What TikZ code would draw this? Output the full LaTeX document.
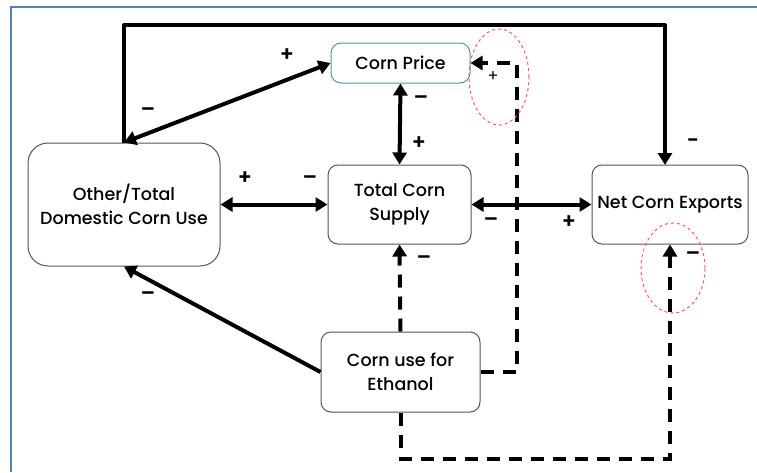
\documentclass[tikz,border=0pt]{standalone}
\usepackage{fontspec}
\setmainfont{Poppins}[BoldFont={Poppins SemiBold}]
\newfontfamily\medfont{Poppins Medium}
\usetikzlibrary{arrows.meta}
\definecolor{frameblue}{HTML}{4F81BD}
\definecolor{teal2}{HTML}{4A9BA0}
\definecolor{boxgray}{HTML}{555555}
\begin{document}
\begin{tikzpicture}[x=1pt,y=-1pt,
  box/.style={draw=boxgray, line width=1pt, rounded corners=10pt, align=center,
    font=\medfont\fontsize{17.5}{24}\selectfont, inner sep=0pt},
  conn/.style={line width=4pt, -{Triangle[length=12pt,width=14pt]}},
  dconn/.style={line width=4pt, {Triangle[length=12pt,width=14pt]}-{Triangle[length=12pt,width=14pt]}},
  dsh/.style={line width=4pt, dash pattern=on 13pt off 9pt},
  sgn/.style={font=\fontsize{21}{21}\selectfont\bfseries, inner sep=0pt},
  redell/.style={draw=red!65, dashed, line width=1pt}
]
\useasboundingbox (0,0) rectangle (757,472);
\fill[white] (0,0) rectangle (757,472);
\draw[frameblue, line width=2pt] (10.5,472) -- (10.5,7) -- (757,7);

\node[box, draw=teal2, minimum width=139pt, minimum height=40pt] (price) at (400.5,63) {Corn Price};
\node[box, rounded corners=20pt, minimum width=192pt, minimum height=123pt] (other) at (124,204.5) {Other/Total\\Domestic Corn Use};
\node[box, minimum width=143pt, minimum height=79pt] (supply) at (399.5,204.5) {Total Corn\\Supply};
\node[box, minimum width=156pt, minimum height=79pt] (exports) at (670,204.5) {Net Corn Exports};
\node[box, minimum width=159pt, minimum height=80pt] (ethanol) at (400.5,372) {Corn use for\\Ethanol};

% solid connectors
\draw[conn, line join=round] (other.north) -- (124,25) -- (665,25) -- (665,165);
\draw[dconn] (price.west) -- (other.north);
\draw[dconn] (price.south) -- (supply.north);
\draw[dconn] (other.east) -- (supply.west);
\draw[dconn] (supply.east) -- (exports.west);
\draw[conn] (ethanol.west) -- (other.south);

% dashed connectors
\draw[dsh, -{Triangle[length=12pt,width=14pt]}] (ethanol.north) -- (supply.south);
\draw[dsh, -{Triangle[length=12pt,width=14pt]}] (ethanol.east) -- ++(36,0) |- (price.east);
\draw[dsh, -{Triangle[length=12pt,width=14pt]}] (ethanol.south) -- ++(0,46) -| (exports.south);

% signs
\node[sgn] (s1) at (287,55) {+};
\node[sgn] (s2) at (148,112) {–};
\node[sgn] (s3) at (421,100) {–};
\node[sgn] (s4) at (419,143) {+};
\node[sgn] (s5) at (245,178) {+};
\node[sgn] (s6) at (310,180) {–};
\node[sgn] (s7) at (491,222) {–};
\node[sgn] (s8) at (569,222) {+};
\node[sgn] (s9) at (693,143) {-};
\node[sgn] (s10) at (148,296) {–};
\node[sgn] (s11) at (424,260) {–};
\node[sgn] (s12) at (693,256) {–};
\node[font=\fontsize{16}{16}\selectfont, inner sep=0pt] (s13) at (493,77) {+};

% red dashed ellipses
\draw[redell] (499,77) ellipse [x radius=30pt, y radius=48pt];
\draw[redell] (673,268) ellipse [x radius=32pt, y radius=45pt];
\end{tikzpicture}
\end{document}
